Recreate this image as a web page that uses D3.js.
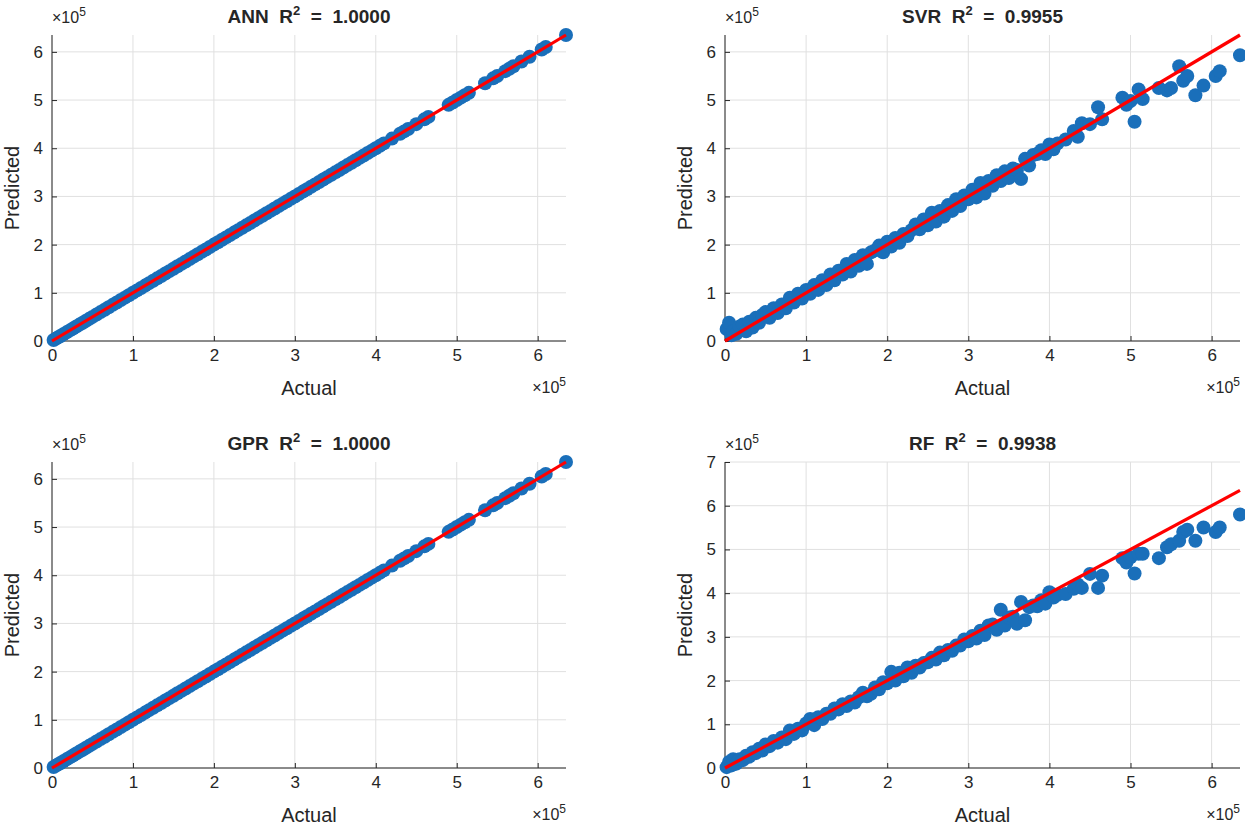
<!DOCTYPE html>
<html>
<head>
<meta charset="utf-8">
<script src="https://cdn.jsdelivr.net/npm/d3@7"></script>
<style>
  body { margin: 0; background: #fff; }
  text { font-family: "Liberation Sans", Arial, sans-serif; fill: #262626; }
</style>
</head>
<body>
<svg width="1245" height="825"></svg>
<script>
// Actual values (x 1e5)
const actual = [0.02,0.05,0.08,0.1,0.14,0.18,0.22,0.26,0.3,0.34,0.38,0.42,0.46,0.5,0.55,0.6,0.65,0.7,0.75,0.8,
  0.85,0.9,0.95,1.0,1.05,1.1,1.15,1.2,1.25,1.3,1.35,1.4,1.45,1.5,1.55,1.6,1.65,1.7,1.75,1.8,
  1.85,1.9,1.95,2.0,2.05,2.1,2.15,2.2,2.25,2.3,2.35,2.4,2.45,2.5,2.55,2.6,2.65,2.7,2.75,2.8,
  2.85,2.9,2.95,3.0,3.05,3.1,3.15,3.2,3.25,3.3,3.35,3.4,3.45,3.5,3.55,3.6,3.65,3.7,3.75,3.8,
  3.85,3.9,3.95,4.0,4.05,4.1,4.2,4.3,4.35,4.4,4.5,4.6,4.65,4.9,4.95,5.0,5.05,5.1,5.15,5.35,
  5.45,5.5,5.6,5.65,5.7,5.8,5.9,6.05,6.1,6.35];

// ANN and GPR predictions lie on the line (R^2 = 1.0000)
const annPred = [0.02,0.05,0.08,0.1,0.14,0.18,0.22,0.26,0.3,0.34,0.38,0.42,0.46,0.5,0.55,0.6,0.65,0.7,0.75,0.8,
  0.85,0.9,0.95,1.0,1.05,1.1,1.15,1.2,1.25,1.3,1.35,1.4,1.45,1.5,1.55,1.6,1.65,1.7,1.75,1.8,
  1.85,1.9,1.95,2.0,2.05,2.1,2.15,2.2,2.25,2.3,2.35,2.4,2.45,2.5,2.55,2.6,2.65,2.7,2.75,2.8,
  2.85,2.9,2.95,3.0,3.05,3.1,3.15,3.2,3.25,3.3,3.35,3.4,3.45,3.5,3.55,3.6,3.65,3.7,3.75,3.8,
  3.85,3.9,3.95,4.0,4.05,4.1,4.2,4.3,4.35,4.4,4.5,4.6,4.65,4.9,4.95,5.0,5.05,5.1,5.15,5.35,
  5.45,5.5,5.6,5.65,5.7,5.8,5.9,6.05,6.1,6.35];
const gprPred = annPred;

const svrPred = [0.25,0.38,0.12,0.2,0.15,0.3,0.34,0.2,0.4,0.28,0.48,0.38,0.54,0.6,0.48,0.68,0.58,0.76,0.68,0.9,
  0.8,0.98,0.88,1.06,0.98,1.16,1.06,1.26,1.16,1.38,1.26,1.46,1.38,1.6,1.44,1.68,1.56,1.78,1.6,1.84,
  1.88,1.98,1.84,2.06,1.96,2.14,2.04,2.22,2.18,2.3,2.42,2.32,2.52,2.4,2.66,2.48,2.7,2.58,2.82,2.7,
  2.94,2.8,3.02,2.94,3.14,2.98,3.28,3.06,3.32,3.22,3.44,3.32,3.52,3.38,3.58,3.55,3.36,3.78,3.64,3.86,
  3.88,3.96,3.88,4.08,3.98,4.1,4.18,4.36,4.24,4.52,4.5,4.85,4.6,5.05,4.9,4.98,4.55,5.22,5.02,5.25,
  5.2,5.25,5.7,5.4,5.5,5.1,5.3,5.5,5.6,5.93];

const rfPred = [0.02,0.14,0.06,0.2,0.1,0.2,0.18,0.28,0.26,0.36,0.34,0.44,0.4,0.54,0.5,0.62,0.58,0.7,0.66,0.86,
  0.78,0.9,0.86,1.02,1.12,0.98,1.16,1.12,1.24,1.24,1.36,1.34,1.46,1.42,1.52,1.5,1.62,1.72,1.64,1.7,
  1.84,1.8,1.96,1.94,2.2,2.0,2.18,2.1,2.3,2.18,2.34,2.3,2.4,2.42,2.52,2.48,2.64,2.58,2.7,2.68,
  2.8,2.8,2.94,2.9,3.02,2.96,3.14,3.04,3.26,3.28,3.16,3.62,3.26,3.44,3.46,3.3,3.8,3.38,3.68,3.72,
  3.7,3.84,3.76,4.02,3.9,3.96,3.98,4.1,4.2,4.12,4.44,4.12,4.4,4.8,4.7,4.82,4.45,4.9,4.9,4.8,
  5.05,5.12,5.2,5.4,5.45,5.2,5.5,5.4,5.5,5.8];

const panels = [
  { name: "ANN", r2: "1.0000", pred: annPred, left: 52, right: 566, bottom: 341, top: 35, ymax: 6.35, yticks: [0,1,2,3,4,5,6] },
  { name: "SVR", r2: "0.9955", pred: svrPred, left: 725, right: 1240, bottom: 341, top: 35, ymax: 6.35, yticks: [0,1,2,3,4,5,6] },
  { name: "GPR", r2: "1.0000", pred: gprPred, left: 52, right: 566, bottom: 768, top: 462, ymax: 6.35, yticks: [0,1,2,3,4,5,6] },
  { name: "RF",  r2: "0.9938", pred: rfPred,  left: 725, right: 1240, bottom: 768, top: 462, ymax: 7, yticks: [0,1,2,3,4,5,6,7] }
];
const xticks = [0,1,2,3,4,5,6];
const xmax = 6.35;

const svg = d3.select("svg");

panels.forEach(p => {
  const x = d3.scaleLinear().domain([0, xmax]).range([p.left, p.right]);
  const y = d3.scaleLinear().domain([0, p.ymax]).range([p.bottom, p.top]);
  const g = svg.append("g");

  // grid
  g.selectAll(".gx").data(xticks).enter().append("line")
    .attr("x1", d => x(d)).attr("x2", d => x(d))
    .attr("y1", p.top).attr("y2", p.bottom)
    .attr("stroke", "#e0e0e0").attr("stroke-width", 1);
  g.selectAll(".gy").data(p.yticks).enter().append("line")
    .attr("x1", p.left).attr("x2", p.right)
    .attr("y1", d => y(d)).attr("y2", d => y(d))
    .attr("stroke", "#e0e0e0").attr("stroke-width", 1);

  // axes
  const xa = g.append("g").attr("transform", `translate(0,${p.bottom})`)
    .call(d3.axisBottom(x).tickValues(xticks).tickSize(-5).tickPadding(8).tickFormat(d3.format("d")));
  const ya = g.append("g").attr("transform", `translate(${p.left},0)`)
    .call(d3.axisLeft(y).tickValues(p.yticks).tickSize(-5).tickPadding(9).tickFormat(d3.format("d")));
  [xa, ya].forEach(a => {
    a.select(".domain").attr("stroke", "#262626").attr("stroke-width", 1);
    a.selectAll(".tick line").attr("stroke", "#262626");
    a.selectAll("text").attr("font-size", 17).attr("fill", "#262626")
      .style("font-family", "Liberation Sans, Arial, sans-serif");
  });
  ya.select(".domain").attr("d", `M0,${p.bottom}V${p.top}`);
  xa.select(".domain").attr("d", `M${p.left},0H${p.right}`);

  // points
  g.selectAll("circle").data(actual.map((a, i) => [a, p.pred[i]])).enter().append("circle")
    .attr("cx", d => x(d[0])).attr("cy", d => y(d[1])).attr("r", 7)
    .attr("fill", "#1a6fba");

  // reference line
  g.append("line")
    .attr("x1", x(0)).attr("y1", y(0)).attr("x2", x(xmax)).attr("y2", y(xmax))
    .attr("stroke", "#ff0000").attr("stroke-width", 3.2);

  // title
  const cx = (p.left + p.right) / 2;
  const t = g.append("text").attr("x", cx).attr("y", p.top - 12)
    .attr("text-anchor", "middle").attr("font-size", 19).attr("font-weight", "bold")
    .style("white-space", "pre");
  t.append("tspan").text(p.name + "  R");
  t.append("tspan").attr("dy", -8).attr("font-size", 13).text("2");
  t.append("tspan").attr("dy", 8).text("  =  " + p.r2);

  // axis labels
  g.append("text").attr("x", cx).attr("y", p.bottom + 54).attr("text-anchor", "middle")
    .attr("font-size", 20).text("Actual");
  g.append("text").attr("transform", `translate(${p.left - 33},${(p.top + p.bottom) / 2}) rotate(-90)`)
    .attr("text-anchor", "middle").attr("font-size", 20).text("Predicted");

  // exponent labels
  const ey = g.append("text").attr("x", p.left).attr("y", p.top - 12).attr("font-size", 16);
  ey.append("tspan").text("×10");
  ey.append("tspan").attr("dy", -7).attr("font-size", 12).text("5");
  const ex = g.append("text").attr("x", p.right).attr("y", p.bottom + 52)
    .attr("text-anchor", "end").attr("font-size", 16);
  ex.append("tspan").text("×10");
  ex.append("tspan").attr("dy", -7).attr("font-size", 12).text("5");
});
</script>
</body>
</html>
